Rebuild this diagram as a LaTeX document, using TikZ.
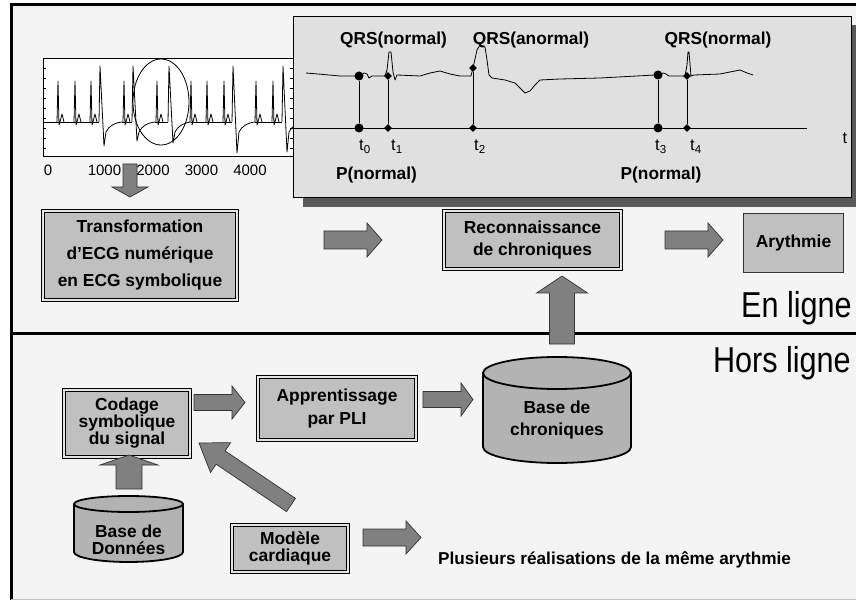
\documentclass[tikz,border=0pt]{standalone}
\usepackage{fontspec}
\setmainfont{Liberation Sans}
\usetikzlibrary{shapes.geometric,positioning,calc}
\definecolor{bggray}{HTML}{F4F4F4}
\definecolor{panelgray}{HTML}{E0E0E0}
\definecolor{shadowgray}{HTML}{595959}
\definecolor{boxgray}{HTML}{C0C0C0}
\definecolor{cylgray}{HTML}{B3B3B3}
\definecolor{arrowgray}{HTML}{808080}
\newcommand{\fs}[2]{\fontsize{#1}{#2}\selectfont}
\newcommand{\barrow}[5]{%
  \pgfpointdiff{\pgfpointanchor{#1}{center}}{\pgfpointanchor{#2}{center}}%
  \pgfgetlastxy{\badx}{\bady}%
  \pgfmathsetmacro{\baang}{atan2(\bady,\badx)}%
  \pgfmathsetmacro{\balen}{veclen(\badx,\bady)}%
  \draw[blockarrow,shift={(#1)},rotate=\baang] (0,-#3) -- (\balen-#5,-#3) -- (\balen-#5,-#4)
    -- (\balen,0) -- (\balen-#5,#4) -- (\balen-#5,#3) -- (0,#3) -- cycle;}
\begin{document}
\begin{tikzpicture}[x=1pt,y=-1pt,
  trace/.style={line width=0.8pt,line join=round},
  panel/.style={draw=black,line width=0.8pt,fill=panelgray},
  txt/.style={font=\fs{17.4}{#1}\bfseries,align=center},
  dblbox/.style={draw=black,line width=0.9pt,double=boxgray!45!white,double distance=2.2pt,fill=boxgray,inner sep=0pt},
  plainbox/.style={draw=black!80,line width=0.9pt,fill=boxgray,inner sep=0pt},
  cyl/.style={draw=black,line width=1.8pt,fill=cylgray},
  blockarrow/.style={draw=black!80,line width=0.7pt,fill=arrowgray,line join=miter},
  lbl/.style={font=\fs{17.3}{20}\bfseries,anchor=base,inner sep=0pt},
  tlbl/.style={font=\fs{16.5}{18},anchor=base west,inner sep=0pt},
  bigdot/.style={circle,fill=black,inner sep=0pt,minimum size=9},
  dia/.style={diamond,fill=black,inner sep=0pt,minimum size=8}]
  \useasboundingbox (0,0) rectangle (856,601);
  \fill[white] (0,0) rectangle (856,601);
  \fill[bggray] (11,5) rectangle (856,600);
  \draw[line width=3pt] (10,5) -- (856,5);
  \draw[line width=3pt] (11,4) -- (11,600);
  \draw[black!25,line width=1.5pt] (11,599.5) -- (856,599.5);
  \draw[line width=3pt] (11,333) -- (856,333);

  % ECG numerique
  \draw[fill=white,line width=0.8pt] (43,58) rectangle (293,156);
  \foreach \y in {68,78,...,148}
    \draw (43,\y) -- (46,\y) (290,\y) -- (293,\y);
  \begin{scope}
    \clip (43,58) rectangle (293,156);
    \draw[trace] (44,122) -- (99,122) (122,122) -- (132,122) (155,122) -- (168,122)
      (191,122) -- (232,122) (255,122) -- (282,122);
    \foreach \x in {58,75,91,124,157,191,207,224,256,273}
      \draw[trace] (\x-1,122) -- (\x,81) -- (\x+1,125) -- (\x+2,122) -- (\x+4,114) -- (\x+6,122);
    \foreach \x/\d in {100/146,133/141,169/143,233/153,283/152}
      \draw[trace] (\x-1,122) -- (\x,66) -- (\x+4,\d) -- (\x+6,132) .. controls (\x+9,126) and (\x+14,123) .. (\x+22,122);
  \end{scope}
  \draw[line width=0.8pt] (161,102) ellipse[x radius=28,y radius=43];
  \node[font=\fs{15}{18},anchor=base] (n0) at (48,176) {0};
  \node[font=\fs{15}{18},anchor=base] (n1) at (104.5,176) {1000};
  \node[font=\fs{15}{18},anchor=base] (n2) at (153,176) {2000};
  \node[font=\fs{15}{18},anchor=base] (n3) at (201.5,176) {3000};
  \node[font=\fs{15}{18},anchor=base] (n4) at (250,176) {4000};

  % ECG symbolique
  \fill[shadowgray] (303,25) rectangle (856,207);
  \draw[panel] (293,16) rectangle (851,197);
  \draw[line width=0.8pt] (293,128) -- (807,128);
  \draw[line width=0.8pt,line join=round] (306,73) -- (318,74) -- (340,76) -- (361,76) -- (364,73) -- (367,74)
    -- (369,78) -- (372,76) -- (385,76) -- (387,70) -- (389,52) -- (391,52) -- (393,72) -- (395,80)
    -- (397,75) -- (420,76) -- (430,73) -- (440,71) -- (450,74) -- (460,76) -- (471,76) -- (473,68)
    -- (477,50) -- (480,45) -- (485,47) -- (487,60) -- (489,75) -- (492,78) -- (505,80) -- (515,83)
    -- (520,88) -- (525,93) -- (530,91) -- (535,85) -- (540,80) -- (560,79) -- (600,78) -- (655,75)
    -- (660,75) -- (663,73) -- (666,74) -- (669,76) -- (685,76) -- (687,65) -- (688,52) -- (689,52)
    -- (691,76) -- (694,75) -- (720,74) -- (730,72) -- (740,70) -- (747,73) -- (753,75);
  \node[bigdot] (p0) at (359,76) {};
  \node[bigdot] (q0) at (359,128) {};
  \node[dia] (p1) at (388,76) {};
  \node[dia] (q1) at (388,128) {};
  \node[dia] (p2) at (473,68) {};
  \node[dia] (q2) at (473,128) {};
  \node[bigdot] (p3) at (658,75) {};
  \node[bigdot] (q3) at (658,128) {};
  \node[dia] (p4) at (687,76) {};
  \node[dia] (q4) at (687,128) {};
  \foreach \i in {0,...,4}
    \draw[line width=0.8pt] (p\i) -- (q\i);
  \node[tlbl] (t0) at (359,151) {t\textsubscript{0}};
  \node[tlbl] (t1) at (391,151) {t\textsubscript{1}};
  \node[tlbl] (t2) at (474,151) {t\textsubscript{2}};
  \node[tlbl] (t3) at (655,151) {t\textsubscript{3}};
  \node[tlbl] (t4) at (690,151) {t\textsubscript{4}};
  \node[tlbl,anchor=base] (tt) at (845,144) {t};
  \node[lbl] (qrs1) at (393.5,45) {QRS(normal)};
  \node[lbl] (qrs2) at (531,45) {QRS(anormal)};
  \node[lbl] (qrs3) at (718,45) {QRS(normal)};
  \node[lbl] (pn1) at (376.5,180) {P(normal)};
  \node[lbl] (pn2) at (661,180) {P(normal)};

  % en ligne
  \node[dblbox,txt=27,minimum width=194,minimum height=89] (trans) at (140,255.5) {Transformation\\d’ECG numérique\\en ECG symbolique};
  \node[dblbox,txt=22,minimum width=177,minimum height=58] (recon) at (532.5,240) {Reconnaissance\\de chroniques};
  \node[plainbox,txt=20,minimum width=100,minimum height=59] (aryth) at (793.5,243) {Arythmie};
  \node[anchor=base east,inner sep=0pt,font=\fs{36}{40}] (enl) at (852,318) {\scalebox{0.85}[1]{En ligne}};
  \node[anchor=base east,inner sep=0pt,font=\fs{36}{40}] (horsl) at (851,372) {\scalebox{0.85}[1]{Hors ligne}};

  % hors ligne
  \draw[cyl] (483,373) -- (483,447) arc[start angle=180,end angle=0,x radius=74,y radius=16] -- (631,373);
  \draw[cyl] (557,373) ellipse[x radius=74,y radius=16];
  \node[txt=22] (bchron) at (557,420) {Base de\\chroniques};
  \node[dblbox,txt=17,minimum width=126,minimum height=67] (codage) at (127,423.5) {Codage\\symbolique\\du signal};
  \node[dblbox,txt=24,minimum width=158,minimum height=63] (appren) at (337,408.5) {Apprentissage\\par PLI};
  \node[dblbox,txt=17,minimum width=116,minimum height=47] (modele) at (290,548.5) {Modèle\\cardiaque};
  \draw[cyl] (74,504) -- (74,552) arc[start angle=180,end angle=0,x radius=54.5,y radius=10] -- (183,504);
  \draw[cyl] (128.5,504) ellipse[x radius=54.5,y radius=8];
  \node[txt=17] (bdd) at (128.5,540) {Base de\\Données};
  \node[anchor=base west,inner sep=0pt,font=\fs{17.2}{20}\bfseries] (plus) at (438,564) {Plusieurs réalisations de la même arythmie};

  % fleches
  \coordinate (dn1) at (130,164);
  \coordinate (dn2) at (130,197);
  \coordinate (r1a) at (324,240);
  \coordinate (r1b) at (382,240);
  \coordinate (r2a) at (665,240);
  \coordinate (r2b) at (723,240);
  \coordinate (up1a) at (562,344);
  \coordinate (up1b) at (562,276);
  \coordinate (c1a) at (194,402.5);
  \coordinate (c1b) at (245,402.5);
  \coordinate (c2a) at (423,399.5);
  \coordinate (c2b) at (473,399.5);
  \coordinate (up2a) at (129,489);
  \coordinate (up2b) at (129,455);
  \coordinate (dg1) at (291,505);
  \coordinate (dg2) at (199,443);
  \coordinate (c3a) at (363,537.5);
  \coordinate (c3b) at (421,537.5);
  \barrow{dn1}{dn2}{7}{18}{10}
  \barrow{r1a}{r1b}{9}{17}{15}
  \barrow{r2a}{r2b}{9}{17}{15}
  \barrow{up1a}{up1b}{12.5}{25.5}{17}
  \barrow{c1a}{c1b}{8}{16.5}{13}
  \barrow{c2a}{c2b}{8}{16.5}{12}
  \barrow{up2a}{up2b}{13}{29}{10}
  \barrow{dg1}{dg2}{8}{18}{26}
  \barrow{c3a}{c3b}{8.5}{16.5}{15}
\end{tikzpicture}
\end{document}
